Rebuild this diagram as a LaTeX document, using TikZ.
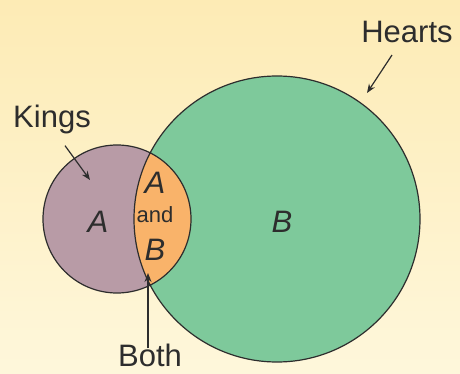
\documentclass[tikz,border=0pt]{standalone}
\usepackage{fontspec}
\setmainfont{Liberation Sans}
\usetikzlibrary{arrows.meta}
\definecolor{bgtop}{RGB}{253,235,181}
\definecolor{bgbottom}{RGB}{254,247,219}
\definecolor{heartgreen}{RGB}{126,201,155}
\definecolor{kingmauve}{RGB}{184,155,166}
\definecolor{bothorange}{RGB}{249,179,106}
\definecolor{inkgrey}{RGB}{45,45,45}

\begin{document}
\begin{tikzpicture}[x=1pt,y=-1pt,
  setname/.style={font=\fontsize{31}{34}\selectfont,text=inkgrey,inner sep=0pt},
  setletter/.style={font=\fontsize{31}{34}\selectfont\itshape,text=inkgrey,inner sep=0pt},
  pointer/.style={inkgrey,line width=1.2pt,-{Stealth[length=9pt,width=7pt]}}]
% Background
\shade[top color=bgtop,bottom color=bgbottom] (0,0) rectangle (460,374);
\useasboundingbox (0,0) rectangle (460,374);
% Circles
\coordinate (kings centre) at (117,219);
\coordinate (hearts centre) at (277,219);
\fill[kingmauve] (kings centre) circle[radius=74];
\fill[heartgreen] (hearts centre) circle[radius=143];
\begin{scope}
\clip (kings centre) circle[radius=74];
\fill[bothorange] (hearts centre) circle[radius=143];
\end{scope}
\draw[inkgrey,line width=1.2pt] (kings centre) circle[radius=74] (hearts centre) circle[radius=143];
% Letters
\node[setletter] (a) at (98,222) {A};
\node[setletter] (b) at (282,222) {B};
\node[setletter] (ab top) at (155,183) {A};
\node[font=\fontsize{22}{24}\selectfont,text=inkgrey,inner sep=0pt] (ab and) at (155,215) {and};
\node[setletter] (ab bottom) at (155,250) {B};
% Names and pointers
\node[setname] (kings) at (52,119) {Kings};
\node[setname] (hearts) at (407,32) {Hearts};
\node[setname] (both) at (150,355) {Both};
\coordinate (kings tip) at (90,180);
\coordinate (hearts tip) at (367,93);
\coordinate (both tip) at (148,273);
\draw[pointer] ([xshift=13pt,yshift=-12pt]kings.south) -- (kings tip);
\draw[pointer] ([xshift=-15pt,yshift=-12pt]hearts.south) -- (hearts tip);
\draw[pointer] ([yshift=-5pt]both.north -| both tip) -- (both tip);
\end{tikzpicture}
\end{document}
